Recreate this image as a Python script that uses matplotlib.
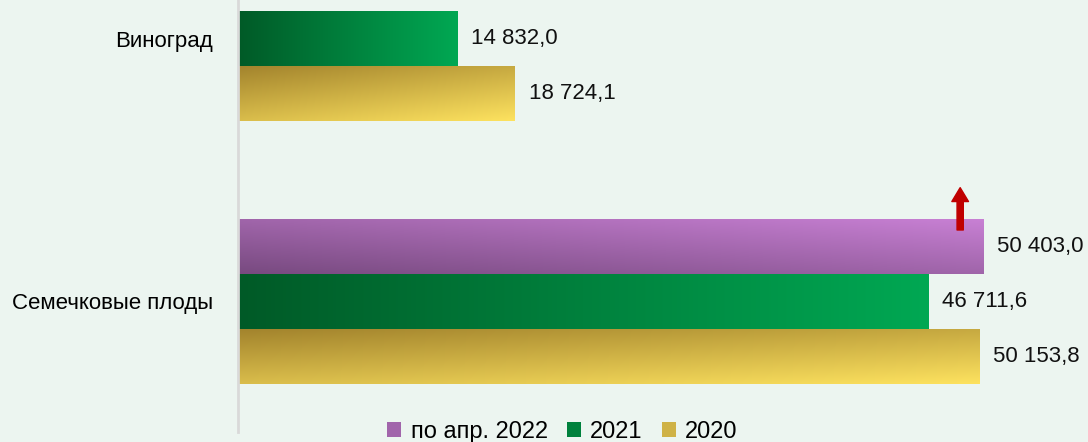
import numpy as np
import matplotlib.pyplot as plt
from matplotlib.patches import Patch
from matplotlib.colors import to_rgb

plt.rcParams["font.family"] = ["Liberation Sans", "DejaVu Sans"]

# data
categories = ["Семечковые плоды", "Виноград"]
series_names = ["по апр. 2022", "2021", "2020"]
values_2022 = [50403.0, None]
values_2021 = [46711.6, 14832.0]
values_2020 = [50153.8, 18724.1]

bg = "#ecf5f0"
# (dark, bright, weight of horizontal, weight of vertical, vertical direction)
grads = {
    "по апр. 2022": ("#784a80", "#c880d4", 0.5, 0.5, "up"),
    "2021": ("#005a27", "#00a853", 1.0, 0.0, "up"),
    "2020": ("#a3842d", "#fde25f", 0.4, 0.6, "down"),
}


def gradient_img(name, nx=256, ny=48):
    dark, bright, wx, wy, direction = grads[name]
    u = np.linspace(0, 1, nx)[None, :]
    v = np.linspace(0, 1, ny)[:, None]  # row 0 = bottom (origin lower)
    if direction == "down":
        v = 1 - v
    t = np.clip(wx * u + wy * v, 0, 1)[..., None]
    c0 = np.array(to_rgb(dark))
    c1 = np.array(to_rgb(bright))
    return c0 + (c1 - c0) * t


fig = plt.figure(figsize=(10.88, 4.42), dpi=100, facecolor=bg)
ax = fig.add_axes([238 / 1088, 10 / 442, 1 - 238 / 1088, 432 / 442])
ax.set_facecolor(bg)

bar_h = 1.0
y_centers = np.array([0.0, 4.78])
offsets = [bar_h, 0.0, -bar_h]
all_series = [values_2022, values_2021, values_2020]

for name, vals, off in zip(series_names, all_series, offsets):
    for yc, v in zip(y_centers, vals):
        if v is None:
            continue
        y0 = yc + off - bar_h / 2
        ax.imshow(gradient_img(name), extent=(0, v, y0, y0 + bar_h),
                  origin="lower", aspect="auto", interpolation="bilinear", zorder=2)
        ax.annotate(f"{v:,.1f}".replace(",", " ").replace(".", ","),
                    xy=(v, yc + off), xytext=(10, 0), textcoords="offset points",
                    ha="left", va="center", fontsize=16, color="#111111")

# red up arrow above the 2022 bar
ax.annotate("", xy=(values_2022[0] - 1550, y_centers[0] + 2.07),
            xytext=(values_2022[0] - 1550, y_centers[0] + 1.3),
            arrowprops=dict(facecolor="#c00000", edgecolor="#c00000",
                            width=4.5, headwidth=12, headlength=10), zorder=5)

ax.set_xlim(0, 57500)
ax.set_ylim(-2.373, 5.482)
ax.set_yticks(y_centers)
ax.set_yticklabels(categories, fontsize=16)
ax.tick_params(axis="y", length=0, pad=18)
ax.set_xticks([])
for s in ["top", "right", "bottom"]:
    ax.spines[s].set_visible(False)
ax.spines["left"].set_color("#d9d9d9")
ax.spines["left"].set_linewidth(2)

handles = [Patch(facecolor=tuple(gradient_img(n)[24, 128]), edgecolor="none")
           for n in series_names]
fig.legend(handles, series_names, loc="lower center", bbox_to_anchor=(0.517, -0.05),
           ncol=3, frameon=False, fontsize=17, handlelength=0.6, handleheight=0.6,
           handletextpad=0.4, columnspacing=0.8)

fig.savefig("out.png", dpi=100, facecolor=bg)
